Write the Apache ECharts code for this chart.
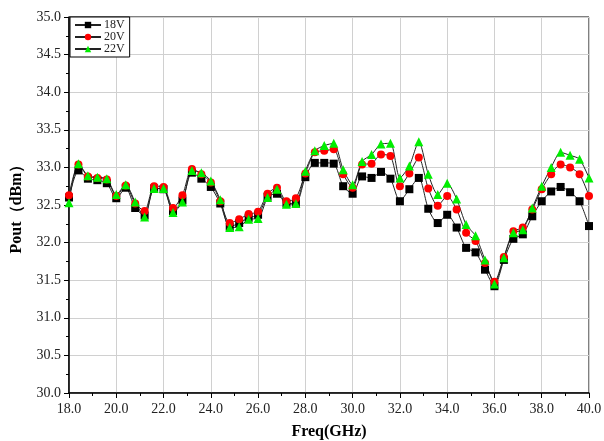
<!DOCTYPE html>
<html>
<head>
<meta charset="utf-8">
<script src="https://cdn.jsdelivr.net/npm/echarts@6/dist/echarts.min.js"></script>
<style>html,body{margin:0;padding:0;background:#fff;}#c{width:604px;height:441px;}</style>
</head>
<body>
<div id="c"></div>
<script>
const freq = [18.0,18.4,18.8,19.2,19.6,20.0,20.4,20.8,21.2,21.6,22.0,22.4,22.8,23.2,23.6,24.0,24.4,24.8,25.2,25.6,26.0,26.4,26.8,27.2,27.6,28.0,28.4,28.8,29.2,29.6,30.0,30.4,30.8,31.2,31.6,32.0,32.4,32.8,33.2,33.6,34.0,34.4,34.8,35.2,35.6,36.0,36.4,36.8,37.2,37.6,38.0,38.4,38.8,39.2,39.6,40.0];
const v18 = [32.60,32.96,32.85,32.83,32.79,32.59,32.73,32.46,32.36,32.72,32.71,32.42,32.56,32.93,32.85,32.74,32.52,32.21,32.26,32.33,32.37,32.61,32.65,32.52,32.52,32.87,33.06,33.06,33.05,32.75,32.65,32.88,32.86,32.94,32.85,32.55,32.71,32.86,32.45,32.26,32.37,32.20,31.93,31.87,31.64,31.42,31.77,32.05,32.11,32.35,32.55,32.68,32.74,32.67,32.55,32.22];
const v20 = [32.63,33.04,32.88,32.86,32.84,32.62,32.76,32.52,32.42,32.75,32.74,32.46,32.63,32.98,32.91,32.80,32.55,32.26,32.31,32.38,32.41,32.65,32.73,32.55,32.59,32.92,33.20,33.22,33.24,32.91,32.73,33.04,33.05,33.17,33.15,32.75,32.92,33.13,32.72,32.49,32.62,32.44,32.13,32.02,31.73,31.48,31.81,32.15,32.20,32.44,32.71,32.91,33.04,33.00,32.91,32.62];
const v22 = [32.53,33.05,32.89,32.87,32.85,32.64,32.77,32.54,32.34,32.72,32.72,32.40,32.54,32.96,32.93,32.82,32.57,32.20,32.21,32.31,32.32,32.60,32.71,32.51,32.52,32.95,33.22,33.29,33.32,32.97,32.77,33.08,33.17,33.31,33.32,32.86,33.02,33.34,32.91,32.64,32.79,32.58,32.24,32.09,31.77,31.45,31.80,32.13,32.17,32.46,32.75,33.00,33.20,33.16,33.11,32.86];
const seriesNames = ['18V','20V','22V'];
const xTitle = 'Freq(GHz)';
const yTitle = 'Pout（dBm）';

function pairs(vals){ return freq.map((f,i)=>[f, vals[i]]); }

const chart = echarts.init(document.getElementById('c'), null, {renderer:'canvas'});
const font = 'Liberation Serif';
const lineBase = {type:'line', smooth:0.25, lineStyle:{color:'#222', width:1}, z:2};
chart.setOption({
  backgroundColor:'#fff',
  animation:false,
  grid:{left:69, right:15, top:17, bottom:48, show:true, borderColor:'#000', borderWidth:1, containLabel:false, outerBoundsMode:'none'},
  legend:{
    left:70, top:17, orient:'vertical', itemGap:0, itemWidth:26, itemHeight:8,
    padding:[2,5,2,4], backgroundColor:'#fff', borderColor:'#000', borderWidth:1, borderRadius:0,
    textStyle:{fontFamily:font, fontSize:12, color:'#222', padding:[0,0,0,-2]},
    data:seriesNames
  },
  xAxis:{
    type:'value', min:18, max:40, interval:2,
    name:xTitle, nameLocation:'middle', nameGap:31,
    nameTextStyle:{fontFamily:font, fontWeight:'bold', fontSize:16, color:'#000'},
    axisLine:{lineStyle:{color:'#000', width:1.5}},
    axisTick:{inside:false, length:5, lineStyle:{color:'#000'}},
    minorTick:{show:true, splitNumber:2, length:3, lineStyle:{color:'#000'}},
    axisLabel:{fontFamily:font, fontSize:14, color:'#222', margin:9, formatter:v=>v.toFixed(1)},
    splitLine:{show:true, lineStyle:{color:'#d0d0d0', width:1}}
  },
  yAxis:{
    type:'value', min:30, max:35, interval:0.5,
    name:yTitle, nameLocation:'middle', nameGap:44, nameRotate:90,
    nameTextStyle:{fontFamily:font, fontWeight:'bold', fontSize:16, color:'#000'},
    axisLine:{show:true, lineStyle:{color:'#000', width:1.5}},
    axisTick:{show:true, inside:false, length:5, lineStyle:{color:'#000'}},
    minorTick:{show:true, splitNumber:2, length:3, lineStyle:{color:'#000'}},
    axisLabel:{fontFamily:font, fontSize:14, color:'#222', margin:8, formatter:v=>v.toFixed(1)},
    splitLine:{show:true, lineStyle:{color:'#d0d0d0', width:1}}
  },
  series:[
    Object.assign({}, lineBase, {name:seriesNames[0], data:pairs(v18), symbol:'rect', symbolSize:8, itemStyle:{color:'#000'}}),
    Object.assign({}, lineBase, {name:seriesNames[1], data:pairs(v20), symbol:'circle', symbolSize:8, itemStyle:{color:'#ff0000'}}),
    Object.assign({}, lineBase, {name:seriesNames[2], data:pairs(v22), symbol:'triangle', symbolSize:9, itemStyle:{color:'#00ee00'}})
  ]
});
</script>
</body>
</html>
